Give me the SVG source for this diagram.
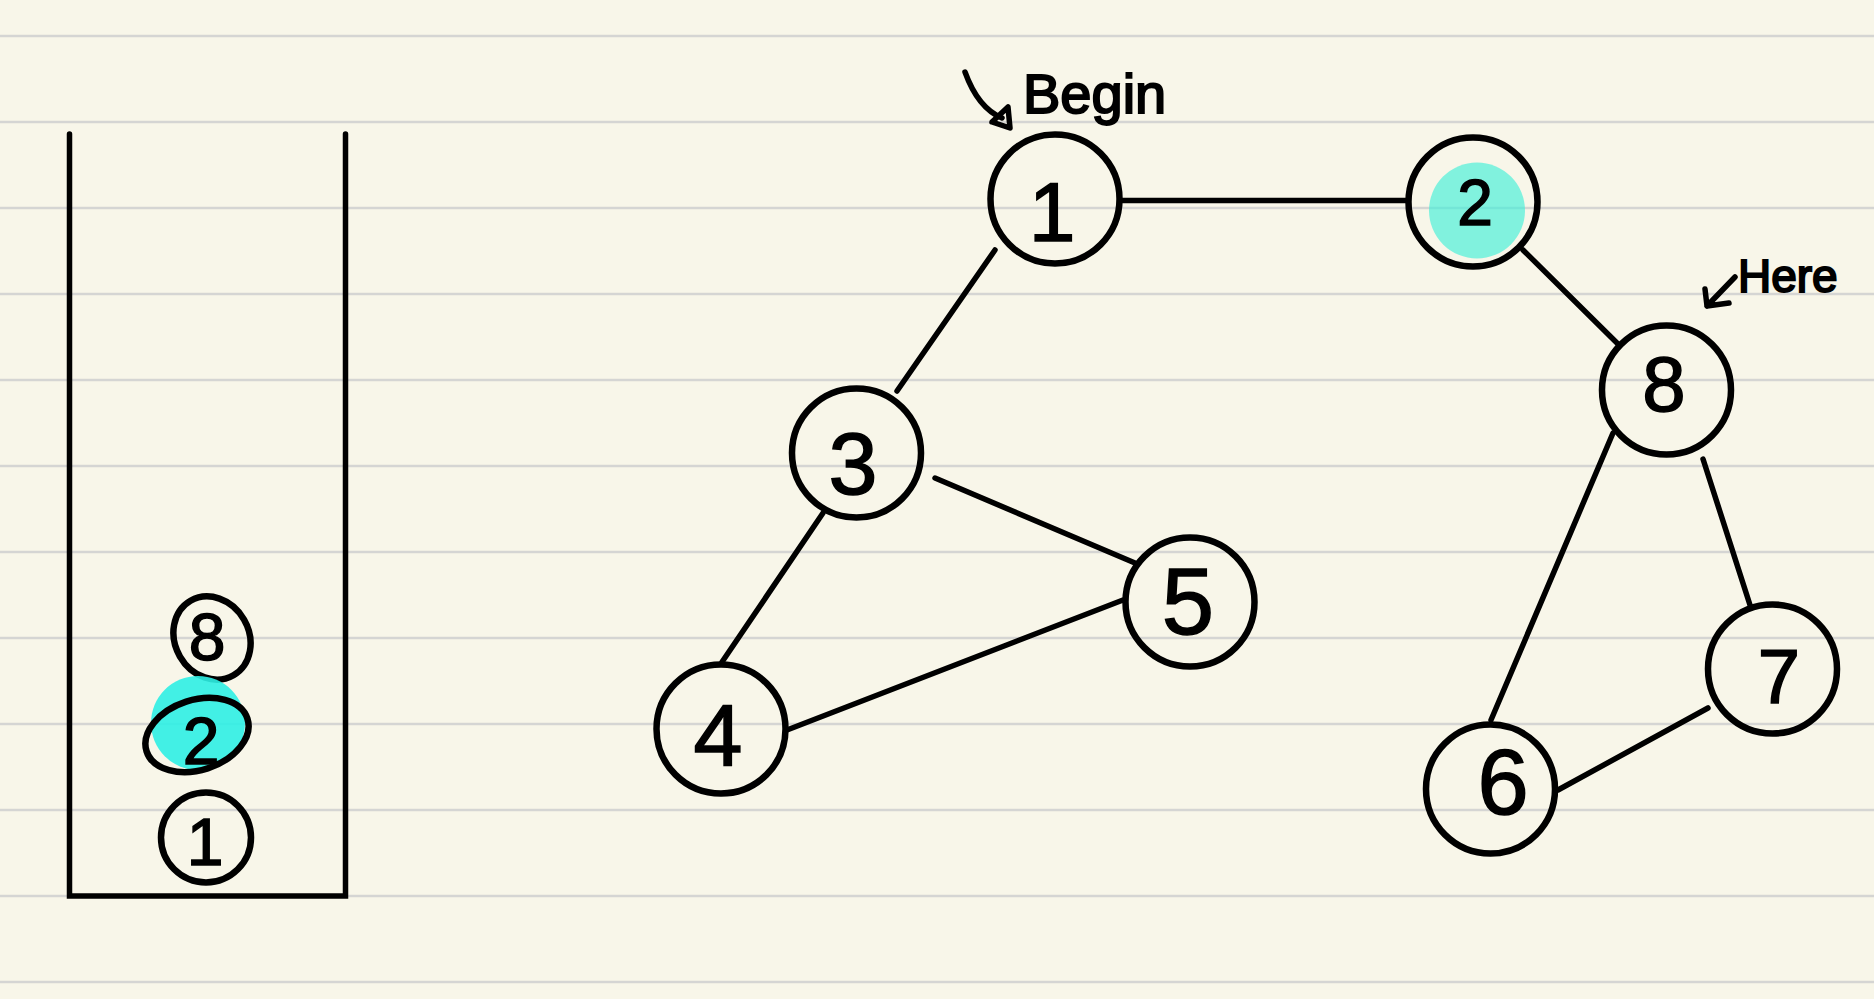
<svg xmlns="http://www.w3.org/2000/svg" width="1874" height="999" viewBox="0 0 1874 999">
<style>
.rule{stroke:#d5d5d3;stroke-width:2.5}
.wall{stroke:#000;stroke-width:5.5;stroke-linecap:round;fill:none}
.edge{stroke:#000;stroke-width:5.5;stroke-linecap:round;fill:none}
.ring{fill:none;stroke:#000;stroke-width:6.5}
.hl{fill:#40f0d8;opacity:0.65}
.hl2{fill:#2ef0e4;opacity:0.9}
.d{font-family:"Liberation Sans",Arial,sans-serif;font-size:84px;fill:#000;stroke:#000;stroke-width:1.5;text-anchor:middle}
.s{font-family:"Liberation Sans",Arial,sans-serif;font-size:66px;fill:#000;stroke:#000;stroke-width:1.5;text-anchor:middle}
.note{font-family:"Liberation Sans",Arial,sans-serif;fill:#000;stroke:#000;stroke-width:2}
.pen{stroke:#000;stroke-width:5.5;stroke-linecap:round;stroke-linejoin:round;fill:none}
</style>
<rect width="1874" height="999" fill="#f8f6e9"/>
<g id="rules">
<line class="rule" x1="0" y1="36" x2="1874" y2="36"/>
<line class="rule" x1="0" y1="122" x2="1874" y2="122"/>
<line class="rule" x1="0" y1="208" x2="1874" y2="208"/>
<line class="rule" x1="0" y1="294" x2="1874" y2="294"/>
<line class="rule" x1="0" y1="380" x2="1874" y2="380"/>
<line class="rule" x1="0" y1="466" x2="1874" y2="466"/>
<line class="rule" x1="0" y1="552" x2="1874" y2="552"/>
<line class="rule" x1="0" y1="638" x2="1874" y2="638"/>
<line class="rule" x1="0" y1="724" x2="1874" y2="724"/>
<line class="rule" x1="0" y1="810" x2="1874" y2="810"/>
<line class="rule" x1="0" y1="896" x2="1874" y2="896"/>
<line class="rule" x1="0" y1="982" x2="1874" y2="982"/>
</g>
<g id="stack">
<path class="wall" d="M69.5,134 V896 H345.5 V134"/>
<g id="stack-8">
<ellipse class="ring" cx="212" cy="638" rx="43" ry="37" transform="rotate(60 212 638)"/>
<text class="s" x="207" y="660">8</text>
</g>
<g id="stack-2">
<circle class="hl2" cx="198" cy="723" r="47"/>
<ellipse class="ring" cx="197" cy="735" rx="53" ry="35" transform="rotate(-18 197 735)"/>
<text class="s" x="201" y="764">2</text>
</g>
<g id="stack-1">
<circle class="ring" cx="206" cy="837.5" r="45"/>
<text class="s" x="205" y="865">1</text>
</g>
</g>
<g id="connectors">
<line class="edge" x1="1122" y1="200.5" x2="1406" y2="200.5"/>
<line class="edge" x1="995" y1="250" x2="897" y2="391"/>
<line class="edge" x1="935" y1="478" x2="1135" y2="563"/>
<line class="edge" x1="823" y1="513" x2="722" y2="662"/>
<line class="edge" x1="787" y1="730" x2="1123" y2="600"/>
<line class="edge" x1="1523" y1="250" x2="1618" y2="344"/>
<line class="edge" x1="1613" y1="433" x2="1491" y2="720"/>
<line class="edge" x1="1703" y1="459" x2="1750" y2="605"/>
<line class="edge" x1="1558" y1="790" x2="1708" y2="708"/>
</g>
<g id="node-1">
<circle class="ring" cx="1055" cy="199" r="64.5"/>
<text class="d" x="1052" y="241">1</text>
</g>
<g id="node-2">
<circle class="hl" cx="1477" cy="210.5" r="48"/>
<circle class="ring" cx="1473" cy="202" r="64.5"/>
<text class="d" x="1475" y="225" style="font-size:64px">2</text>
</g>
<g id="node-3">
<circle class="ring" cx="856.5" cy="453" r="64.5"/>
<text class="d" x="853" y="494" style="font-size:88px">3</text>
</g>
<g id="node-4">
<circle class="ring" cx="721" cy="729" r="64.5"/>
<text class="d" x="718" y="766" style="font-size:88px">4</text>
</g>
<g id="node-5">
<circle class="ring" cx="1190" cy="602" r="64.5"/>
<text class="d" x="1188" y="634" style="font-size:94px">5</text>
</g>
<g id="node-6">
<circle class="ring" cx="1490.5" cy="789" r="64.5"/>
<text class="d" x="1503" y="814" style="font-size:92px">6</text>
</g>
<g id="node-7">
<circle class="ring" cx="1772.5" cy="669" r="64.5"/>
<text class="d" x="1779" y="703" style="font-size:76px">7</text>
</g>
<g id="node-8">
<circle class="ring" cx="1666.5" cy="390" r="64.5"/>
<text class="d" x="1664" y="411" style="font-size:78px">8</text>
</g>
<g id="label-begin">
<path class="pen" d="M965,72 Q978,108 1002,118"/>
<polygon class="pen" points="992,122 1008,107 1010,128"/>
<text class="note" x="1023" y="113" font-size="56">Begin</text>
</g>
<g id="label-here">
<path class="pen" d="M1735,277 L1707,306 M1705,289 L1707,306 L1729,303"/>
<text class="note" x="1738" y="292" font-size="46">Here</text>
</g>
</svg>
